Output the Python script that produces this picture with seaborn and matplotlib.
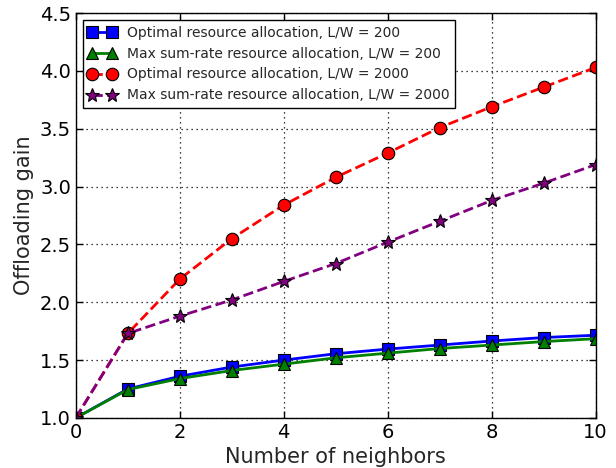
import seaborn as sns
import matplotlib.pyplot as plt
import pandas as pd

neighbors = [0, 1, 2, 3, 4, 5, 6, 7, 8, 9, 10]
opt_200 = [1.0, 1.25, 1.36, 1.44, 1.50, 1.555, 1.595, 1.63, 1.665, 1.695, 1.715]
maxsr_200 = [1.0, 1.245, 1.34, 1.41, 1.465, 1.52, 1.56, 1.60, 1.63, 1.66, 1.685]
opt_2000 = [1.0, 1.73, 2.20, 2.55, 2.84, 3.08, 3.29, 3.51, 3.69, 3.86, 4.03]
maxsr_2000 = [1.0, 1.73, 1.88, 2.02, 2.18, 2.335, 2.52, 2.70, 2.88, 3.03, 3.19]

labels = ['Optimal resource allocation, L/W = 200',
          'Max sum-rate resource allocation, L/W = 200',
          'Optimal resource allocation, L/W = 2000',
          'Max sum-rate resource allocation, L/W = 2000']

sns.set_style('ticks')
plt.rcParams['font.family'] = ['DejaVu Sans']
plt.rcParams['xtick.direction'] = 'in'
plt.rcParams['ytick.direction'] = 'in'

fig, ax = plt.subplots(figsize=(6.16, 4.68), dpi=100)

series = [
    (opt_200, 'blue', '-', 's', 9),
    (maxsr_200, 'green', '-', '^', 9),
    (opt_2000, 'red', '--', 'o', 9),
    (maxsr_2000, 'purple', '--', '*', 10),
]

for (vals, color, ls, marker, ms), label in zip(series, labels):
    df = pd.DataFrame({'x': neighbors, 'y': vals})
    sns.lineplot(data=df, x='x', y='y', ax=ax, color=color, linestyle=ls,
                 linewidth=2, marker=marker, markersize=ms,
                 markerfacecolor=color, markeredgecolor='black',
                 markeredgewidth=0.8, label=label)

ax.set_xlim(0, 10)
ax.set_ylim(1.0, 4.5)
ax.set_xticks([0, 2, 4, 6, 8, 10])
ax.set_yticks([1.0, 1.5, 2.0, 2.5, 3.0, 3.5, 4.0, 4.5])
ax.tick_params(labelsize=14, top=True, right=True, length=5, width=1, colors='black')
ax.grid(True, linestyle=(0, (1, 3)), color='black', linewidth=0.9)
for s in ax.spines.values():
    s.set_color('black')
    s.set_linewidth(1)
ax.set_xlabel('Number of neighbors', fontsize=15)
ax.set_ylabel('Offloading gain', fontsize=15)

leg = ax.legend(loc='upper left', fontsize=10, numpoints=2, fancybox=False,
                framealpha=1, edgecolor='black', handlelength=2,
                borderaxespad=0.5, labelspacing=0.5)
leg.get_frame().set_linewidth(1)

plt.subplots_adjust(left=0.123, right=0.967, top=0.972, bottom=0.107)
plt.savefig('out.png', dpi=100)
